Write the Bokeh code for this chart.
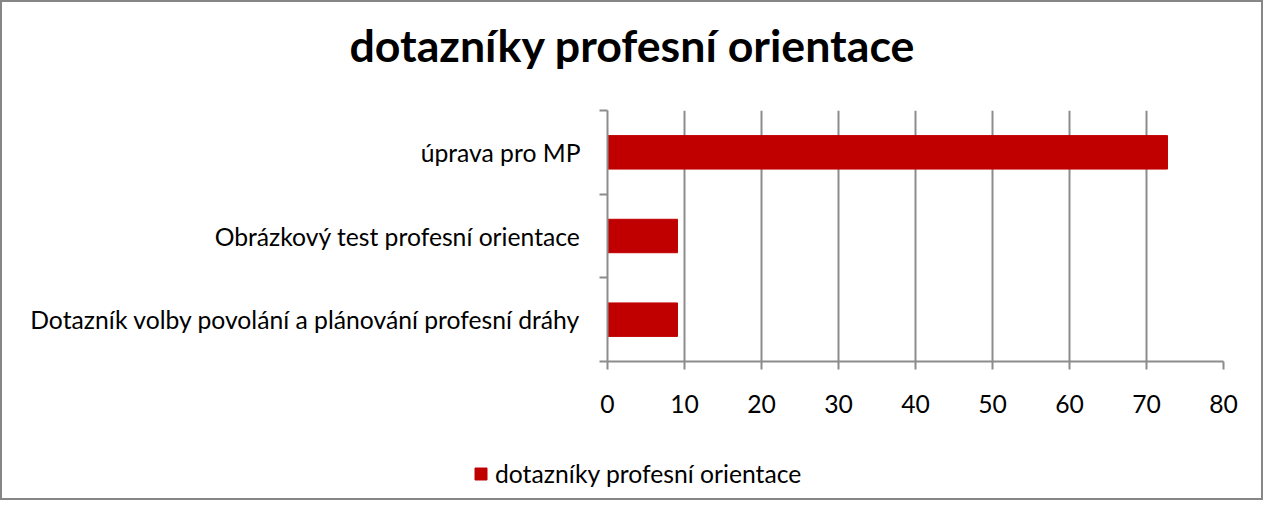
from bokeh.plotting import figure
from bokeh.layouts import column
from bokeh.models import FixedTicker, Legend, LegendItem, ColumnDataSource, Range1d, Label
from bokeh.embed import file_html
from bokeh.resources import INLINE

title_text = "dotazníky profesní orientace"
series_name = "dotazníky profesní orientace"
categories = [
    "Dotazník volby povolání a plánování profesní dráhy",
    "Obrázkový test profesní orientace",
    "úprava pro MP",
]
values = [9.09, 9.09, 72.73]
x_ticks = [0, 10, 20, 30, 40, 50, 60, 70, 80]

FONT = "Lato"
GRAY = "#8c8c8c"
BAR = "#C00000"
LABEL_SIZE = "24.7px"
W = 1259

positions = [i + 0.5 for i in range(len(categories))]
src = ColumnDataSource(dict(y=positions, v=values, name=categories))

# ---- title strip ----
TH = 104
tf = figure(width=W, height=TH, output_backend="svg", toolbar_location=None,
            x_range=Range1d(0, W), y_range=Range1d(0, TH),
            x_axis_type=None, y_axis_type=None,
            min_border_left=0, min_border_right=0, min_border_top=0, min_border_bottom=0)
tf.frame_align = False
tf.title = None
tf.grid.visible = False
tf.outline_line_color = None
tf.background_fill_color = "white"
tf.border_fill_color = "white"
tf.add_layout(Label(x=630, y=62, text=title_text, text_align="center",
                    text_baseline="alphabetic", text_font=FONT,
                    text_font_size="44.7px", text_font_style="bold", text_color="black"))

# ---- main chart ----
p = figure(width=W, height=336, output_backend="svg", toolbar_location=None,
           x_range=Range1d(0, 80), y_range=Range1d(0, len(categories)),
           min_border_left=605, min_border_right=38, min_border_top=4, min_border_bottom=81)
p.title = None
p.background_fill_color = "white"
p.border_fill_color = "white"
p.outline_line_color = None

r = p.hbar(y="y", right="v", left=0, height=0.4, source=src, color=BAR)

xa = p.xaxis[0]
xa.ticker = FixedTicker(ticks=x_ticks)
xa.axis_line_color = GRAY
xa.axis_line_width = 2
xa.major_tick_line_color = GRAY
xa.major_tick_line_width = 2
xa.major_tick_in = 0
xa.major_tick_out = 8
xa.minor_tick_line_color = None
xa.major_label_text_font = FONT
xa.major_label_text_font_size = LABEL_SIZE
xa.major_label_text_color = "black"
xa.major_label_standoff = 25

ya = p.yaxis[0]
ya.ticker = FixedTicker(ticks=positions, minor_ticks=list(range(len(categories) + 1)))
ya.major_label_overrides = {pos: name for pos, name in zip(positions, categories)}
ya.axis_line_color = GRAY
ya.axis_line_width = 2
ya.major_tick_line_color = None
ya.major_tick_in = 0
ya.major_tick_out = 0
ya.minor_tick_line_color = GRAY
ya.minor_tick_line_width = 2
ya.minor_tick_in = 0
ya.minor_tick_out = 8
ya.major_label_text_font = FONT
ya.major_label_text_font_size = LABEL_SIZE
ya.major_label_text_color = "black"
ya.major_label_standoff = 19

p.xgrid.grid_line_color = GRAY
p.xgrid.grid_line_width = 2
p.xgrid.ticker = FixedTicker(ticks=x_ticks)
p.ygrid.grid_line_color = None

# ---- legend strip ----
LH = 56
lf = figure(width=W, height=LH, output_backend="svg", toolbar_location=None,
            x_range=Range1d(0, 1), y_range=Range1d(0, 1),
            x_axis_type=None, y_axis_type=None,
            min_border_left=0, min_border_right=0, min_border_top=0, min_border_bottom=0)
lf.frame_align = False
lf.title = None
lf.grid.visible = False
lf.outline_line_color = None
lf.background_fill_color = "white"
lf.border_fill_color = "white"
lr = lf.hbar(y="y", right="v", left=0, height=0.4, source=src, color=BAR, visible=False)
legend = Legend(items=[LegendItem(label=series_name, renderers=[lr])],
                location=(471, 10), orientation="horizontal",
                border_line_color=None, background_fill_alpha=0,
                inactive_fill_alpha=0,
                label_text_font=FONT, label_text_font_size=LABEL_SIZE,
                label_text_color="black",
                glyph_width=15, glyph_height=15, label_standoff=7,
                margin=0, padding=0)
lf.add_layout(legend, "center")

layout = column(tf, p, lf, spacing=0,
                styles={"border": "2px solid #868686", "background": "white"})

open("out.html", "w").write(file_html(layout, INLINE))
